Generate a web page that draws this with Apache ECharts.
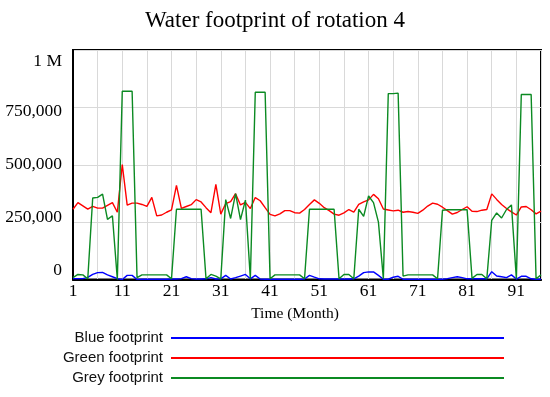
<!DOCTYPE html>
<html>
<head>
<meta charset="utf-8">
<script src="https://cdn.jsdelivr.net/npm/echarts@6/dist/echarts.min.js"></script>
<style>
html,body{margin:0;padding:0;background:#fff;}
#chart{width:550px;height:397px;}
</style>
</head>
<body>
<div id="chart"></div>
<script>
// Months 1..96
const months = [];
for (let i = 1; i <= 96; i++) months.push(String(i));

// Blue footprint (thousands)
const blueK = [4,4,4,9,22,30,31,20,12,4, 0,18,18,0,1,1,1,1,1,1, 2,2,4,12,4,2,2,3,8,2, 3,18,2,8,15,22,3,18,2,1, 1,1,1,1,1,1,1,2,18,10, 3,2,2,2,2,2,2,3,15,30, 33,33,18,1,1,10,14,1,1,1, 1,1,1,1,1,1,4,8,12,8, 3,3,3,3,3,34,15,12,8,20, 2,14,14,3,1,1];
// Green footprint (thousands)
const greenK = [306,335,321,307,319,311,311,323,335,293, 501,324,333,333,327,319,358,277,281,293, 303,410,310,318,326,348,338,313,291,414, 285,331,339,374,325,336,309,357,343,313, 284,277,286,300,300,291,289,305,327,347, 332,313,300,285,280,290,305,294,327,338, 347,371,352,307,303,299,302,293,296,293, 288,302,320,333,328,315,300,285,292,305, 317,297,296,302,305,373,349,327,309,295, 281,316,318,304,286,298];
// Grey footprint (thousands)
const greyK = [8,22,20,3,355,358,372,262,278,0, 820,820,820,8,20,20,20,20,20,20, 3,306,306,306,306,306,306,3,22,15, 3,348,266,374,261,346,3,816,816,816, 3,20,20,20,20,20,20,3,306,306, 306,306,306,306,3,22,22,3,306,275, 364,335,250,3,810,810,812,15,20,20, 20,20,20,20,3,302,304,304,304,304, 304,5,22,22,3,258,290,268,305,325, 3,806,806,806,3,20];

const seriesNames = ['Blue footprint','Green footprint','Grey footprint'];
const seriesColors = ['#0000ff','#ff0000','#0b8a22'];
const yTicks = [0,250000,500000,750000,1000000];
const yTickLabels = ['0','250,000','500,000','750,000','1 M'];
const yLabelKeys = ['a','b','c','d','e'];

const toVal = arr => arr.map(v => v * 1000);
const seriesData = [toVal(blueK), toVal(greenK), toVal(greyK)];

const chart = echarts.init(document.getElementById('chart'), null, {renderer:'canvas'});
const serif = 'Liberation Serif';
const labelBase = {fontFamily: serif, fontSize: 17.5, color: '#000'};
const option = {
  animation: false,
  backgroundColor: '#fff',
  title: {
    text: 'Water footprint of rotation 4',
    left: 'center', top: 9, padding: [0, 15, 0, 0],
    textStyle: {fontFamily: serif, fontSize: 23, fontWeight: 'normal', color: '#000'}
  },
  grid: {left: 73, right: 9, top: 50, bottom: 117.5, show: true, borderColor: '#000', borderWidth: 2, backgroundColor: 'transparent'},
  legend: {
    orient: 'vertical', align: 'right', right: 46, top: 328, padding: 0,
    itemGap: 0, itemWidth: 333, itemHeight: 2, icon: 'rect',
    data: seriesNames,
    textStyle: {fontFamily: 'Liberation Sans', fontSize: 15, color: '#111', lineHeight: 20, padding: [0, 3, 0, 0]}
  },
  xAxis: {
    type: 'category', data: months, boundaryGap: false,
    name: 'Time (Month)', nameLocation: 'middle', nameGap: 26,
    nameTextStyle: {fontFamily: serif, fontSize: 15.5, color: '#000', padding: [0, 24, 0, 0]},
    axisLine: {lineStyle: {color: '#000', width: 2}},
    axisTick: {show: false},
    axisLabel: Object.assign({interval: 9, margin: 3}, labelBase),
    splitLine: {show: true, interval: 4, lineStyle: {color: '#d9d9d9', width: 1}}
  },
  yAxis: {
    type: 'value', min: 0, max: 1000000, interval: 250000,
    axisLine: {show: true, lineStyle: {color: '#000', width: 2}},
    axisTick: {show: false},
    axisLabel: Object.assign({
      margin: 11,
      formatter: function (v) {
        const i = yTicks.indexOf(v);
        return i < 0 ? '' : '{' + yLabelKeys[i] + '|' + yTickLabels[i] + '}';
      },
      rich: {
        a: Object.assign({padding: [0, 0, 19, 0]}, labelBase),
        b: Object.assign({padding: [0, 0, 10, 0]}, labelBase),
        c: Object.assign({}, labelBase),
        d: Object.assign({padding: [8, 0, 0, 0]}, labelBase),
        e: Object.assign({padding: [22, 0, 0, 0]}, labelBase)
      }
    }, labelBase),
    splitLine: {show: true, lineStyle: {color: '#d9d9d9', width: 1}}
  },
  series: seriesNames.map((n, i) => ({
    name: n, type: 'line', data: seriesData[i], symbol: 'none', smooth: false,
    lineStyle: {color: seriesColors[i], width: 1.4},
    itemStyle: {color: seriesColors[i]}
  }))
};
chart.setOption(option);
</script>
</body>
</html>
